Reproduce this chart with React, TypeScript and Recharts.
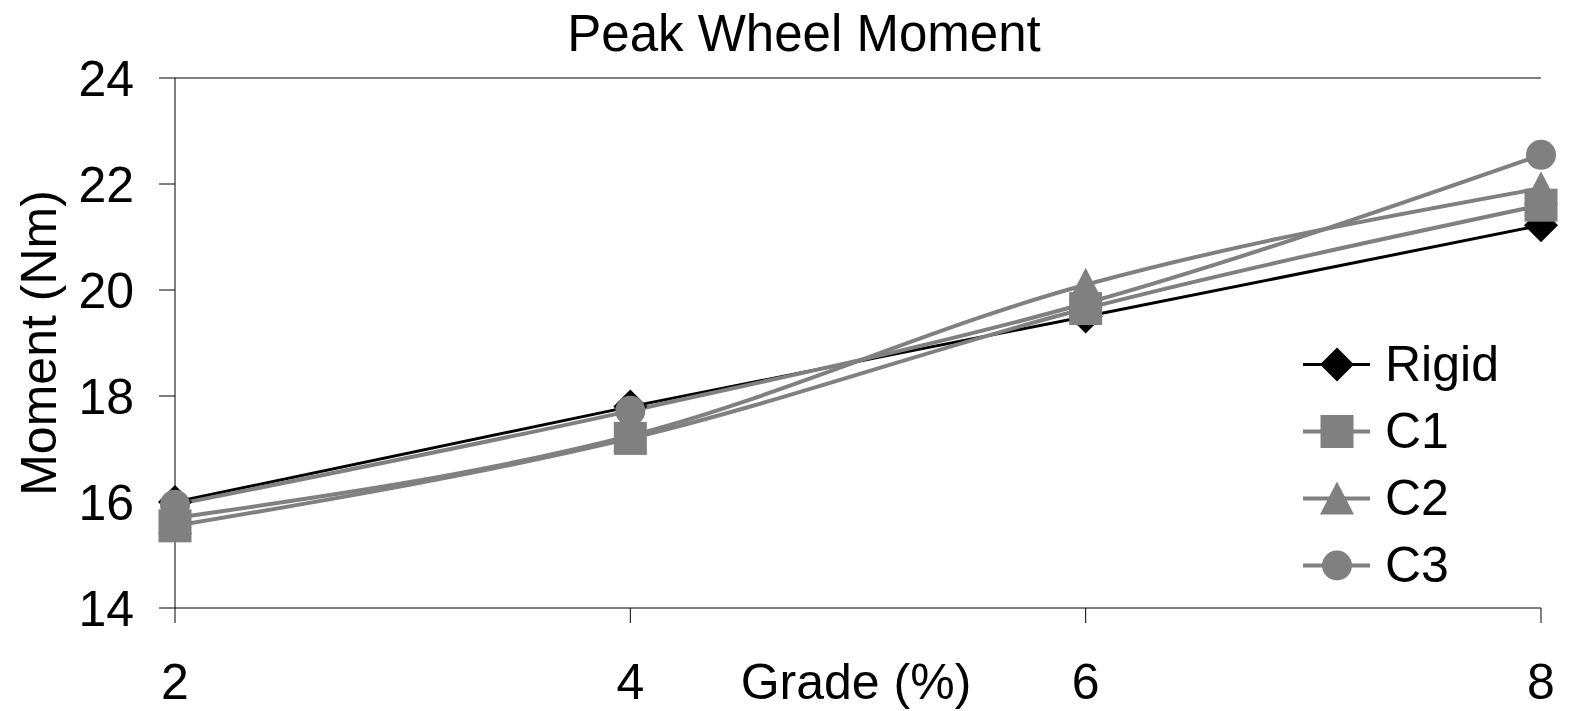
import { Legend, Line, LineChart, ReferenceLine, XAxis, YAxis } from "recharts";

const grades = [2, 4, 6, 8];
const rigid = [16.0, 17.8, 19.5, 21.22];
const c1 = [15.55, 17.2, 19.65, 21.6];
const c2 = [15.7, 17.25, 20.1, 21.92];
const c3 = [15.95, 17.72, 19.75, 22.55];
const yTicks = [14, 16, 18, 20, 22, 24];

const data = grades.map((g, i) => ({
  grade: g,
  Rigid: rigid[i],
  C1: c1[i],
  C2: c2[i],
  C3: c3[i],
}));

const FONT = '"Liberation Sans", Arial, sans-serif';
const GRAY = "#808080";

type Shape = "diamond" | "square" | "triangle" | "circle";

const series: { key: string; color: string; width: number; shape: Shape }[] = [
  { key: "Rigid", color: "#000000", width: 3, shape: "diamond" },
  { key: "C1", color: GRAY, width: 4, shape: "square" },
  { key: "C2", color: GRAY, width: 4, shape: "triangle" },
  { key: "C3", color: GRAY, width: 4, shape: "circle" },
];

function Marker({ cx, cy, shape, color }: { cx: number; cy: number; shape: Shape; color: string }) {
  if (shape === "diamond")
    return <polygon points={`${cx},${cy - 17} ${cx + 17},${cy} ${cx},${cy + 17} ${cx - 17},${cy}`} fill={color} />;
  if (shape === "square") return <rect x={cx - 16.5} y={cy - 16.5} width={33} height={33} fill={color} />;
  if (shape === "triangle")
    return <polygon points={`${cx},${cy - 17} ${cx + 17},${cy + 16} ${cx - 17},${cy + 16}`} fill={color} />;
  return <circle cx={cx} cy={cy} r={15} fill={color} />;
}

function LegendBox() {
  return (
    <div style={{ fontFamily: FONT, fontSize: 50, lineHeight: "67px" }}>
      {series.map((s) => (
        <div key={s.key} style={{ display: "flex", alignItems: "center", height: 67 }}>
          <svg width={85} height={67}>
            <line x1={3} x2={70} y1={33.5} y2={33.5} stroke={s.color} strokeWidth={s.width} />
            <Marker cx={37} cy={33.5} shape={s.shape} color={s.color} />
          </svg>
          <span style={{ color: "#000" }}>{s.key}</span>
        </div>
      ))}
    </div>
  );
}

export default function App() {
  return (
    <div style={{ position: "absolute", left: 0, top: 0, width: 1571, height: 711, background: "#fff" }}>
      <LineChart
        width={1571}
        height={711}
        data={data}
        margin={{ top: 78, right: 30, bottom: 0, left: 0 }}
      >
        <XAxis
          dataKey="grade"
          type="number"
          domain={[2, 8]}
          ticks={grades}
          height={103}
          tickSize={15}
          tickMargin={40}
          stroke="#000"
          tick={{ fill: "#000", fontSize: 50, fontFamily: FONT }}
        />
        <YAxis
          domain={[14, 24]}
          ticks={yTicks}
          width={175}
          tickSize={16}
          tickMargin={25}
          stroke="#000"
          interval={0}
          tick={{ fill: "#000", fontSize: 50, fontFamily: FONT }}
        />
        <YAxis yAxisId="right" orientation="right" domain={[14, 24]} width={0} tick={false} tickLine={false} stroke="#000" />
        <ReferenceLine y={24} stroke="#000" />
        {series.map((s) => (
          <Line
            key={s.key}
            dataKey={s.key}
            type="monotone"
            stroke={s.color}
            strokeWidth={s.width}
            isAnimationActive={false}
            dot={(p: any) => <Marker key={`${s.key}-${p.index}`} cx={p.cx} cy={p.cy} shape={s.shape} color={s.color} />}
            activeDot={false}
          />
        ))}
        <Legend
          layout="vertical"
          align="center"
          verticalAlign="middle"
          content={() => <LegendBox />}
          wrapperStyle={{ position: "absolute", left: 1300, top: 331, width: 260, height: 270 }}
        />
      </LineChart>
      <svg
        width={1571}
        height={711}
        style={{ position: "absolute", left: 0, top: 0, pointerEvents: "none" }}
        fontFamily={FONT}
      >
        <text x={804} y={51} textAnchor="middle" fontSize={51} fill="#000">
          Peak Wheel Moment
        </text>
        <text x={856} y={699} textAnchor="middle" fontSize={50} fill="#000">
          Grade (%)
        </text>
        <text x={0} y={0} transform="translate(56,343) rotate(-90)" textAnchor="middle" fontSize={50} fill="#000">
          Moment (Nm)
        </text>
      </svg>
    </div>
  );
}
